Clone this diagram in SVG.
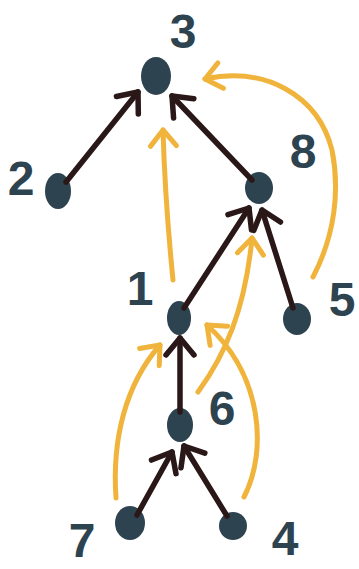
<svg xmlns="http://www.w3.org/2000/svg" width="359" height="569" viewBox="0 0 359 569">
<defs>
<style>
.node{fill:#2e4350}
.lbl{font-family:"Liberation Sans","DejaVu Sans",sans-serif;font-weight:bold;font-size:48px;fill:#2e4350;text-anchor:middle}
.blk{fill:none;stroke:#2a1717;stroke-width:5.5;stroke-linecap:round;stroke-linejoin:round}
.org{fill:none;stroke:#f0b43c;stroke-width:5;stroke-linecap:round;stroke-linejoin:round}
</style>
<marker id="hb" viewBox="-22 -20 26 40" refX="0" refY="0" markerWidth="26" markerHeight="40" markerUnits="userSpaceOnUse" orient="auto" overflow="visible">
<path d="M -17 -14 L 0 0 L -17 14" fill="none" stroke="#2a1717" stroke-width="5.5" stroke-linecap="round" stroke-linejoin="round"/>
</marker>
<marker id="ho" viewBox="-22 -20 26 40" refX="0" refY="0" markerWidth="26" markerHeight="40" markerUnits="userSpaceOnUse" orient="auto" overflow="visible">
<path d="M -16 -13 L 0 0 L -16 13" fill="none" stroke="#f0b43c" stroke-width="5" stroke-linecap="round" stroke-linejoin="round"/>
</marker>
</defs>
<rect width="359" height="569" fill="#ffffff"/>
<g id="node-3"><ellipse class="node" cx="156" cy="76" rx="15" ry="19"/><text class="lbl" x="183" y="48">3</text></g>
<g id="node-2"><ellipse class="node" cx="58" cy="191" rx="13" ry="18"/><text class="lbl" x="21" y="195">2</text></g>
<g id="node-8"><ellipse class="node" cx="259" cy="188" rx="14" ry="16"/><text class="lbl" x="303" y="168">8</text></g>
<g id="node-1"><ellipse class="node" cx="179" cy="318" rx="12" ry="17"/><text class="lbl" x="140" y="305">1</text></g>
<g id="node-5"><ellipse class="node" cx="297" cy="319" rx="14" ry="16"/><text class="lbl" x="342" y="316">5</text></g>
<g id="node-6"><ellipse class="node" cx="180" cy="425" rx="13" ry="17"/><text class="lbl" x="222" y="425">6</text></g>
<g id="node-7"><ellipse class="node" cx="130" cy="523" rx="15" ry="17"/><text class="lbl" x="82" y="557">7</text></g>
<g id="node-4"><ellipse class="node" cx="233" cy="526" rx="14" ry="14"/><text class="lbl" x="285" y="555">4</text></g>
<g id="connectors">
<path class="blk" d="M 66 182 L 138 92" marker-end="url(#hb)"/>
<path class="blk" d="M 252 180 L 172 96" marker-end="url(#hb)"/>
<path class="blk" d="M 184 308 L 249 208" marker-end="url(#hb)"/>
<path class="blk" d="M 293 308 L 262 210" marker-end="url(#hb)"/>
<path class="blk" d="M 180 412 L 180 338" marker-end="url(#hb)"/>
<path class="blk" d="M 137 515 L 172 452" marker-end="url(#hb)"/>
<path class="blk" d="M 227 516 L 184 446" marker-end="url(#hb)"/>
<path class="org" d="M 173 280 Q 165 200 163 130" marker-end="url(#ho)"/>
<path class="org" d="M 198 392 C 225 355, 245 310, 252 238" marker-end="url(#ho)"/>
<path class="org" d="M 313 277 C 335 235, 340 190, 332 150 C 318 95, 265 66, 205 79" marker-end="url(#ho)"/>
<path class="org" d="M 116 498 C 112 440, 125 385, 160 345" marker-end="url(#ho)"/>
<path class="org" d="M 244 497 C 268 450, 262 375, 207 325" marker-end="url(#ho)"/>
</g>
</svg>
